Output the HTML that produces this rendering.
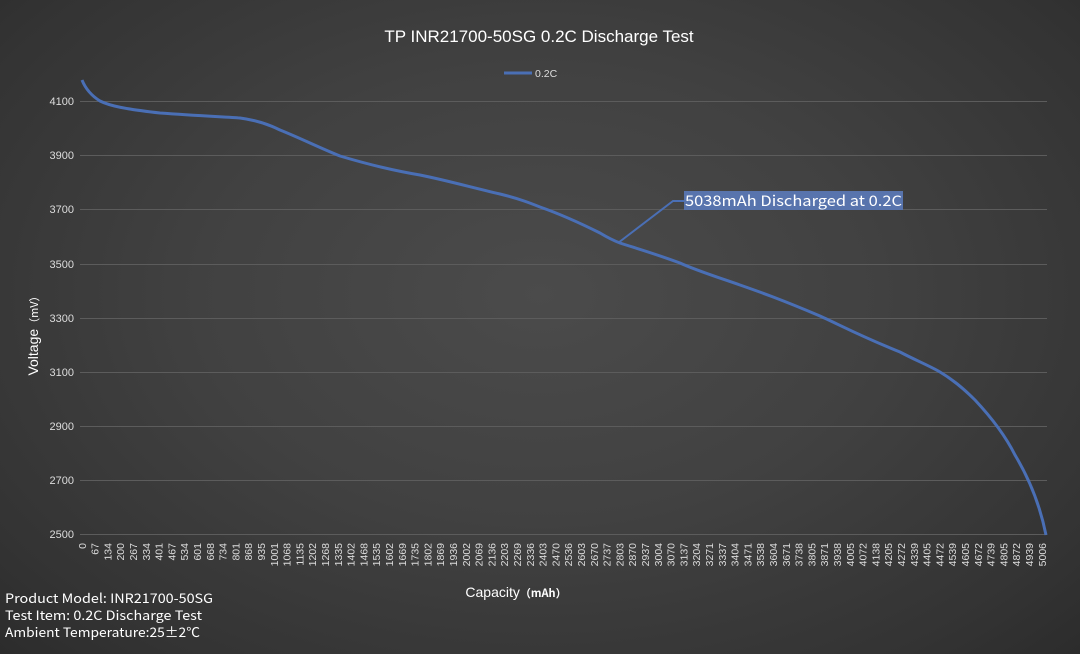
<!DOCTYPE html>
<html><head><meta charset="utf-8"><style>
html,body{margin:0;padding:0;}
body{width:1080px;height:654px;overflow:hidden;background:radial-gradient(ellipse at 50% 45%,#4b4b4b 0%,#414141 45%,#333 85%,#2c2c2c 100%);font-family:"Liberation Sans",sans-serif;}
svg{position:absolute;left:0;top:0;}
</style></head><body>
<svg width="1080" height="654" xmlns="http://www.w3.org/2000/svg">
<text x="539" y="42" fill="#fff" font-size="17" text-anchor="middle">TP INR21700-50SG 0.2C Discharge Test</text>
<line x1="504" y1="73" x2="532" y2="73" stroke="#4a6fb5" stroke-width="3"/>
<text x="535" y="77" fill="#ddd" font-size="10.5">0.2C</text>
<g stroke="#5c5c5c" stroke-width="1">
<line x1="80" y1="101.5" x2="1047" y2="101.5"/><line x1="80" y1="155.5" x2="1047" y2="155.5"/>
<line x1="80" y1="209.5" x2="1047" y2="209.5"/><line x1="80" y1="264.5" x2="1047" y2="264.5"/>
<line x1="80" y1="318.5" x2="1047" y2="318.5"/><line x1="80" y1="372.5" x2="1047" y2="372.5"/>
<line x1="80" y1="426.5" x2="1047" y2="426.5"/><line x1="80" y1="480.5" x2="1047" y2="480.5"/>
<line x1="80" y1="534.5" x2="1047" y2="534.5"/>
</g>
<g fill="#ddd" font-size="11" text-anchor="end">
<text x="74" y="105">4100</text><text x="74" y="159">3900</text><text x="74" y="213">3700</text>
<text x="74" y="268">3500</text><text x="74" y="322">3300</text><text x="74" y="376">3100</text>
<text x="74" y="430">2900</text><text x="74" y="484">2700</text><text x="74" y="538">2500</text>
</g>
<text transform="translate(38,333) rotate(-90)" fill="#fff" font-size="14" text-anchor="middle">Voltage<tspan font-size="11" font-family="'Noto Sans CJK SC',sans-serif">（mV）</tspan></text>
<text x="516" y="597" fill="#fff" font-size="14" text-anchor="middle">Capacity<tspan font-size="11" font-weight="bold" font-family="'Noto Sans CJK SC',sans-serif">（mAh）</tspan></text>
<g id="xl" fill="#ddd" font-size="10.5" text-anchor="end"></g>
<path d="M82,80 C86,90 92,96 100,101 C110,106 125,109 160,113 C200,116 230,117 240,118 C255,120 268,124 280,130 C300,138 320,148 340,156 C360,162 390,170 420,175 C445,180 470,187 500,194 C520,199 530,203 540,207 C560,214 580,223 600,233 C605,236 612,240 620,243 C635,248 650,252 680,263 C695,270 720,278 740,285 C760,292 780,299 820,316 C840,325 860,336 900,352 C915,360 930,366 940,372 C955,381 965,390 975,400 C990,416 1005,435 1015,455 C1030,480 1040,505 1046,535" fill="none" stroke="#4a6fb5" stroke-width="3"/>
<polyline points="618,243 673,201 684,201" fill="none" stroke="#4a6fb5" stroke-width="2"/>
<rect x="684" y="191" width="219" height="19" fill="#5874ad"/>
<text x="685" y="206" fill="#fff" font-size="14.5" textLength="217" lengthAdjust="spacingAndGlyphs" font-family="'Noto Sans CJK SC','Liberation Sans',sans-serif">5038mAh Discharged at 0.2C</text>
<g fill="#fff" font-size="13" font-family="'Noto Sans CJK SC','Liberation Sans',sans-serif">
<text x="5" y="603" textLength="208" lengthAdjust="spacingAndGlyphs">Product Model: INR21700-50SG</text>
<text x="5" y="620" textLength="197" lengthAdjust="spacingAndGlyphs">Test Item: 0.2C Discharge Test</text>
<text x="5" y="637" textLength="195" lengthAdjust="spacingAndGlyphs">Ambient Temperature:25±2℃</text>
</g>
</svg>
<script>
var v=[0,67,134,200,267,334,401,467,534,601,668,734,801,868,935,1001,1068,1135,1202,1268,1335,1402,1468,1535,1602,1669,1735,1802,1869,1936,2002,2069,2136,2203,2269,2336,2403,2470,2536,2603,2670,2737,2803,2870,2937,3004,3070,3137,3204,3271,3337,3404,3471,3538,3604,3671,3738,3805,3871,3938,4005,4072,4138,4205,4272,4339,4405,4472,4539,4605,4672,4739,4805,4872,4939,5006];
var g=document.getElementById('xl'),ns='http://www.w3.org/2000/svg';
v.forEach(function(n,i){var t=document.createElementNS(ns,'text');var x=82+12.8*i+3.8;t.setAttribute('transform','translate('+x+',543) rotate(-90)');t.textContent=n;g.appendChild(t);});
</script>
</body></html>
